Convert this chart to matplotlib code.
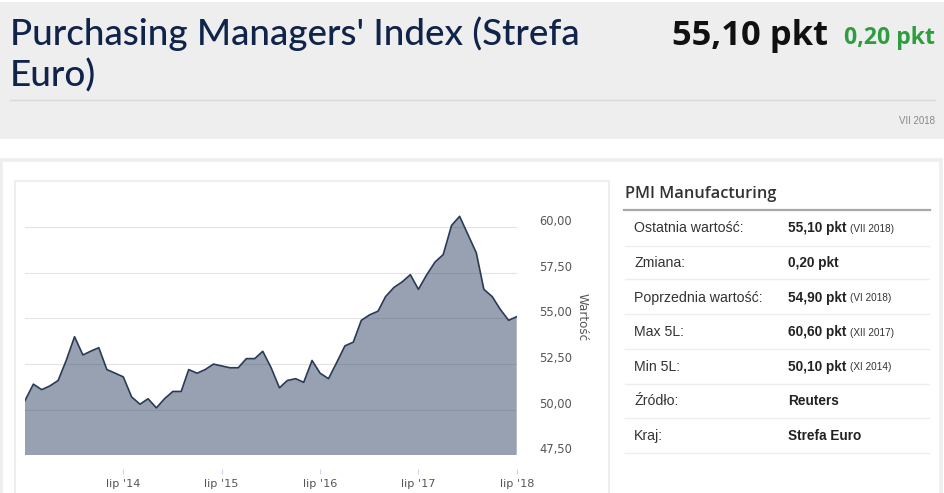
import matplotlib
matplotlib.use('Agg')
import matplotlib.pyplot as plt
import matplotlib.transforms as mtransforms
from matplotlib.patches import Rectangle
from matplotlib.lines import Line2D
import pandas as pd

# ---------------- data ----------------
months = pd.date_range('2013-07-01', '2018-07-01', freq='MS')
values = [50.5, 51.4, 51.1, 51.3, 51.6, 52.7,
          54.0, 53.0, 53.2, 53.4, 52.2, 52.0, 51.8, 50.7, 50.3, 50.6, 50.1, 50.6,
          51.0, 51.0, 52.2, 52.0, 52.2, 52.5, 52.4, 52.3, 52.3, 52.8, 52.8, 53.2,
          52.3, 51.2, 51.6, 51.7, 51.5, 52.7, 52.0, 51.7, 52.6, 53.5, 53.7, 54.9,
          55.2, 55.4, 56.2, 56.7, 57.0, 57.4, 56.6, 57.4, 58.1, 58.5, 60.1, 60.6,
          59.6, 58.6, 56.6, 56.2, 55.5, 54.9, 55.1]
x_tick_dates = pd.to_datetime(['2014-07-01', '2015-07-01', '2016-07-01', '2017-07-01', '2018-07-01'])
x_tick_labels = ["lip '14", "lip '15", "lip '16", "lip '17", "lip '18"]
y_ticks = [47.5, 50.0, 52.5, 55.0, 57.5, 60.0]
y_tick_labels = ['47,50', '50,00', '52,50', '55,00', '57,50', '60,00']

title_lines = ["Purchasing Managers' Index (Strefa", "Euro)"]
last_value_text = '55,10 pkt'
change_text = '0,20 pkt'
date_text = 'VII 2018'

table_title = 'PMI Manufacturing'
table_labels = ['Ostatnia wartość:', 'Zmiana:', 'Poprzednia wartość:', 'Max 5L:',
                'Min 5L:', 'Źródło:', 'Kraj:']
table_values = ['55,10 pkt', '0,20 pkt', '54,90 pkt', '60,60 pkt', '50,10 pkt',
                'Reuters', 'Strefa Euro']
table_notes = ['(VII 2018)', '', '(VI 2018)', '(XII 2017)', '(XI 2014)', '', '']

# ---------------- figure ----------------
W, H = 945, 493
fig = plt.figure(figsize=(W / 100, H / 100), dpi=100)
fig.patch.set_facecolor('white')


def fx(x):
    return x / W


def fy(y):
    return 1 - y / H


def rect(x0, y0, x1, y1, **kw):
    fig.patches.append(Rectangle((fx(x0), fy(y1)), fx(x1) - fx(x0), fy(y0) - fy(y1),
                                 transform=fig.transFigure, zorder=-5, **kw))


def hline(x0, x1, y, color, lw):
    fig.lines.append(Line2D([fx(x0), fx(x1)], [fy(y), fy(y)], transform=fig.transFigure,
                            color=color, lw=lw, zorder=-4))


# header background
rect(0, 2, 945, 139, facecolor='#eeeeee', edgecolor='none')
hline(10, 935, 100, '#d9d9d9', 1.0)
# outer panel border
rect(1.5, 159.5, 941.5, 510, facecolor='white', edgecolor='#eeeeee', lw=2.6)
# chart box border
rect(15, 181, 609, 510, facecolor='white', edgecolor='#eeeeee', lw=1.5)

# header texts
fig.text(fx(10), fy(45), title_lines[0], fontsize=26.5, family='Lato', weight='medium',
         color='#10234a', ha='left', va='baseline')
fig.text(fx(10), fy(87), title_lines[1], fontsize=26.5, family='Lato', weight='medium',
         color='#10234a', ha='left', va='baseline')
fig.text(fx(828), fy(45), last_value_text, fontsize=24.8, family='Open Sans',
         weight='bold', color='#111111', ha='right', va='baseline')
fig.text(fx(935), fy(44), change_text, fontsize=16.6, family='Open Sans',
         weight='bold', color='#2e9d3f', ha='right', va='baseline')
fig.text(fx(935), fy(121), date_text, fontsize=7, family='Liberation Sans',
         color='#888888', ha='right', va='center')

# ---------------- chart ----------------
left, right, top_y, bottom = 25, 516.7, 199.9, 455.3
ax = fig.add_axes([fx(left), fy(bottom), fx(right) - fx(left), (bottom - top_y) / H])
ax.set_facecolor('none')
ax.fill_between(months, values, 0, color='#324464', alpha=0.5, lw=0, zorder=1)
ax.plot(months, values, color='#2b3b57', lw=1.2, zorder=2, solid_joinstyle='round')
ax.set_xlim(months[0], months[-1])
ax.set_ylim(47.5, 61.5)

ax.set_yticks(y_ticks)
ax.yaxis.grid(True, color='#e3e3e3', lw=0.8)
ax.set_axisbelow(True)
ax.tick_params(axis='y', length=0, labelleft=False, labelright=False)

ax.set_xticks(x_tick_dates)
ax.set_xticklabels(x_tick_labels)
ax.tick_params(axis='x', length=3.8, width=0.8, color='#ccd6eb', pad=3.2,
               labelsize=8.1, labelcolor='#555555', direction='out')
for lab in ax.get_xticklabels():
    lab.set_family('DejaVu Sans')
for s in ['top', 'left', 'right']:
    ax.spines[s].set_visible(False)
ax.spines['bottom'].set_position(('outward', 10))
ax.spines['bottom'].set_color('none')

trans = mtransforms.offset_copy(
    mtransforms.blended_transform_factory(ax.transAxes, ax.transData),
    fig=fig, x=0, y=5.5, units='dots')
for v, lab in zip(y_ticks, y_tick_labels):
    ax.text(1.046, v, lab, transform=trans, ha='left', va='center', fontsize=8.3,
            color='#555555', family='DejaVu Sans', clip_on=False)

fig.text(fx(582.5), fy(317.5), 'Wartość', rotation=270, ha='center', va='center',
         fontsize=8.6, color='#555555', family='DejaVu Sans')

# ---------------- table ----------------
fig.text(fx(625), fy(194), table_title, fontsize=11.8, family='Open Sans',
         weight='semibold', color='#333333', ha='left', va='center')
hline(624, 930, 210, '#a8a8a8', 1.6)
row_y = [228.3, 262.7, 297.7, 332.3, 366.7, 401, 435.7]
sep_y = [245.7, 279.3, 314, 349, 384, 418.3, 452.7]
for y in sep_y:
    hline(625, 929, y, '#eeeeee', 1.0)
for y, lab, val, note in zip(row_y, table_labels, table_values, table_notes):
    fig.text(fx(634.3), fy(y), lab, fontsize=10.2, family='Liberation Sans',
             color='#333333', ha='left', va='center')
    fig.text(fx(787.7), fy(y), val, fontsize=9.8, family='Liberation Sans',
             weight='bold', color='#222222', ha='left', va='center')
    if note:
        fig.text(fx(850.5), fy(y + 0.5), note, fontsize=7.2, family='Liberation Sans',
                 color='#333333', ha='left', va='center')

fig.savefig('out.png', dpi=100, facecolor='white')
